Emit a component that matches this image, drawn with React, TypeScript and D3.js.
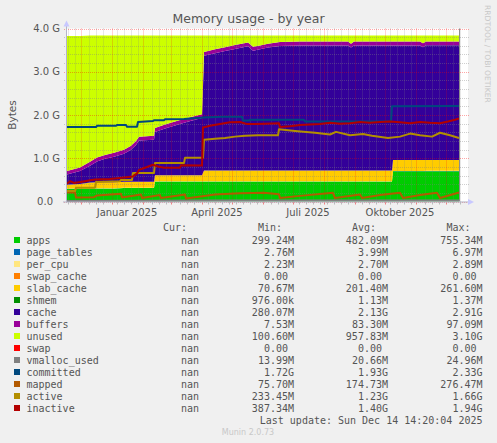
import React from 'react';
import * as d3 from 'd3';

const parseDay = d3.timeParse('%Y-%m-%d');

// stacked areas, values in GiB, one value per date in stackDates
const stackDates = [
  '2024-11-16', '2024-11-29', '2024-12-09', '2024-12-16', '2024-12-24', '2025-01-02',
  '2025-01-12', '2025-01-19', '2025-01-24', '2025-01-27', '2025-02-11', '2025-02-12',
  '2025-02-22', '2025-03-04', '2025-03-14', '2025-03-24', '2025-03-31', '2025-04-02',
  '2025-04-13', '2025-04-23', '2025-05-03', '2025-05-16', '2025-05-21', '2025-05-28',
  '2025-06-05', '2025-06-17', '2025-07-07', '2025-08-24', '2025-08-27', '2025-08-30',
  '2025-10-07', '2025-10-08', '2025-11-04', '2025-11-07', '2025-11-10', '2025-12-13',
];
const apps = [
  0.29, 0.30, 0.30, 0.30, 0.30, 0.30, 0.31, 0.31, 0.31, 0.31, 0.31, 0.46,
  0.46, 0.46, 0.46, 0.46, 0.46, 0.46, 0.46, 0.46, 0.46, 0.46, 0.46, 0.46,
  0.46, 0.46, 0.46, 0.46, 0.46, 0.46, 0.46, 0.70, 0.70, 0.70, 0.70, 0.70,
];
const pageTables = [
  0.003, 0.003, 0.003, 0.003, 0.003, 0.003, 0.003, 0.003, 0.003, 0.004, 0.004, 0.004,
  0.004, 0.004, 0.004, 0.004, 0.004, 0.004, 0.004, 0.004, 0.004, 0.004, 0.004, 0.004,
  0.004, 0.004, 0.004, 0.004, 0.004, 0.004, 0.004, 0.005, 0.005, 0.005, 0.006, 0.006,
];
const perCpu = [
  0.0022, 0.0022, 0.0025, 0.0027, 0.0027, 0.0027, 0.0027, 0.0027, 0.0027, 0.0027, 0.0027, 0.0027,
  0.0027, 0.0027, 0.0027, 0.0027, 0.0027, 0.0028, 0.0028, 0.0028, 0.0028, 0.0028, 0.0028, 0.0028,
  0.0028, 0.0028, 0.0028, 0.0028, 0.0028, 0.0028, 0.0028, 0.0028, 0.0028, 0.0028, 0.0028, 0.0028,
];
const swapCache = [
  0, 0, 0, 0, 0, 0, 0, 0, 0, 0, 0, 0,
  0, 0, 0, 0, 0, 0, 0, 0, 0, 0, 0, 0,
  0, 0, 0, 0, 0, 0, 0, 0, 0, 0, 0, 0,
];
const slabCache = [
  0.09, 0.10, 0.13, 0.14, 0.14, 0.14, 0.14, 0.14, 0.14, 0.14, 0.14, 0.14,
  0.14, 0.14, 0.14, 0.14, 0.14, 0.25, 0.25, 0.25, 0.25, 0.25, 0.25, 0.25,
  0.25, 0.25, 0.25, 0.25, 0.25, 0.25, 0.25, 0.25, 0.25, 0.25, 0.25, 0.25,
];
const shmem = [
  0.0009, 0.0009, 0.001, 0.001, 0.001, 0.001, 0.001, 0.001, 0.001, 0.001, 0.001, 0.0011,
  0.0011, 0.0011, 0.0011, 0.0011, 0.0011, 0.0012, 0.0012, 0.0012, 0.0012, 0.0012, 0.0012, 0.0012,
  0.0012, 0.0012, 0.0012, 0.0012, 0.0012, 0.0012, 0.0012, 0.0013, 0.0013, 0.0013, 0.0013, 0.0013,
];
const cache = [
  0.24, 0.30, 0.39, 0.48, 0.54, 0.59, 0.65, 0.74, 0.85, 0.95, 0.97, 1.00,
  1.08, 1.15, 1.22, 1.28, 1.32, 2.65, 2.71, 2.76, 2.81, 2.87, 2.77, 2.80,
  2.84, 2.88, 2.89, 2.89, 2.84, 2.89, 2.89, 2.65, 2.65, 2.61, 2.65, 2.65,
];
const buffers = [
  0.08, 0.08, 0.09, 0.09, 0.09, 0.09, 0.09, 0.09, 0.09, 0.09, 0.09, 0.09,
  0.09, 0.09, 0.09, 0.09, 0.09, 0.09, 0.09, 0.09, 0.09, 0.09, 0.09, 0.09,
  0.09, 0.09, 0.09, 0.09, 0.09, 0.09, 0.09, 0.09, 0.09, 0.09, 0.09, 0.09,
];
const unused = [
  3.12, 3.04, 2.92, 2.82, 2.76, 2.71, 2.64, 2.55, 2.44, 2.34, 2.32, 2.14,
  2.06, 1.99, 1.92, 1.86, 1.82, 0.38, 0.32, 0.27, 0.22, 0.16, 0.26, 0.23,
  0.19, 0.15, 0.14, 0.14, 0.19, 0.14, 0.14, 0.14, 0.14, 0.18, 0.14, 0.14,
];
const swap = [
  0, 0, 0, 0, 0, 0, 0, 0, 0, 0, 0, 0,
  0, 0, 0, 0, 0, 0, 0, 0, 0, 0, 0, 0,
  0, 0, 0, 0, 0, 0, 0, 0, 0, 0, 0, 0,
];

// line series: [date, GiB]
const vmallocUsed: [string, number][] = [
  ['2024-11-16', 0.014], ['2025-02-12', 0.018], ['2025-04-02', 0.021], ['2025-10-08', 0.023], ['2025-12-13', 0.024],
];
const committed: [string, number][] = [
  ['2024-11-16', 1.72], ['2024-12-15', 1.72], ['2024-12-16', 1.75], ['2025-01-04', 1.75], ['2025-01-05', 1.77],
  ['2025-01-14', 1.77], ['2025-01-15', 1.73], ['2025-01-25', 1.73], ['2025-01-26', 1.84], ['2025-02-10', 1.86],
  ['2025-02-11', 1.88], ['2025-02-21', 1.88], ['2025-02-22', 1.90], ['2025-03-13', 1.91], ['2025-04-02', 1.94],
  ['2025-04-20', 1.96], ['2025-05-10', 1.96], ['2025-05-11', 1.87], ['2025-05-17', 1.87], ['2025-05-18', 1.89],
  ['2025-07-11', 1.89], ['2025-07-12', 1.85], ['2025-10-06', 1.85], ['2025-10-07', 2.20], ['2025-12-13', 2.21],
];
const mapped: [string, number][] = [
  ['2024-11-16', 0.21], ['2024-11-24', 0.21], ['2024-11-25', 0.09], ['2024-12-13', 0.10], ['2024-12-16', 0.14],
  ['2025-01-09', 0.18], ['2025-01-10', 0.09], ['2025-01-29', 0.16], ['2025-01-30', 0.08], ['2025-02-17', 0.15],
  ['2025-02-18', 0.08], ['2025-03-14', 0.16], ['2025-03-15', 0.07], ['2025-04-13', 0.16], ['2025-05-08', 0.19],
  ['2025-06-01', 0.20], ['2025-06-16', 0.17], ['2025-06-17', 0.08], ['2025-07-07', 0.13], ['2025-08-09', 0.20],
  ['2025-08-11', 0.08], ['2025-09-05', 0.16], ['2025-09-07', 0.08], ['2025-09-25', 0.15], ['2025-10-15', 0.20],
  ['2025-10-18', 0.08], ['2025-11-04', 0.15], ['2025-11-21', 0.20], ['2025-11-24', 0.08], ['2025-12-13', 0.21],
];
const active: [string, number][] = [
  ['2024-11-16', 0.24], ['2024-11-24', 0.24], ['2024-11-25', 0.32], ['2024-12-14', 0.32], ['2024-12-15', 0.45],
  ['2025-01-08', 0.47], ['2025-01-09', 0.50], ['2025-01-20', 0.50], ['2025-01-21', 0.66], ['2025-02-11', 0.66],
  ['2025-02-12', 0.89], ['2025-03-13', 0.89], ['2025-03-14', 1.01], ['2025-04-01', 1.01], ['2025-04-02', 1.43],
  ['2025-04-13', 1.45], ['2025-04-23', 1.47], ['2025-05-03', 1.50], ['2025-05-13', 1.52], ['2025-05-26', 1.53],
  ['2025-06-15', 1.53], ['2025-06-16', 1.67], ['2025-07-02', 1.63], ['2025-07-22', 1.59], ['2025-08-06', 1.55],
  ['2025-08-12', 1.61], ['2025-08-26', 1.53], ['2025-09-08', 1.56], ['2025-09-17', 1.52], ['2025-10-03', 1.47],
  ['2025-10-15', 1.50], ['2025-10-25', 1.57], ['2025-11-04', 1.53], ['2025-11-16', 1.50], ['2025-11-24', 1.59],
  ['2025-12-04', 1.53], ['2025-12-13', 1.47],
];
const inactive: [string, number][] = [
  ['2024-11-16', 0.41], ['2024-11-19', 0.47], ['2024-11-23', 0.43], ['2024-11-29', 0.45], ['2024-12-04', 0.47],
  ['2024-12-09', 0.49], ['2024-12-14', 0.51], ['2024-12-29', 0.52], ['2025-01-10', 0.55], ['2025-01-21', 0.58],
  ['2025-01-25', 0.65], ['2025-01-27', 0.73], ['2025-02-02', 0.78], ['2025-02-10', 0.85], ['2025-02-15', 0.81],
  ['2025-02-21', 0.78], ['2025-03-09', 0.78], ['2025-03-10', 0.84], ['2025-03-31', 0.83], ['2025-04-01', 1.71],
  ['2025-04-08', 1.75], ['2025-04-18', 1.79], ['2025-04-28', 1.83], ['2025-05-08', 1.84], ['2025-05-15', 1.79],
  ['2025-05-23', 1.79], ['2025-06-02', 1.80], ['2025-06-16', 1.81], ['2025-06-17', 1.72], ['2025-06-27', 1.74],
  ['2025-07-07', 1.77], ['2025-07-17', 1.78], ['2025-07-27', 1.79], ['2025-08-06', 1.82], ['2025-08-16', 1.80],
  ['2025-08-26', 1.81], ['2025-09-05', 1.84], ['2025-09-15', 1.82], ['2025-09-25', 1.84], ['2025-10-05', 1.85],
  ['2025-10-15', 1.83], ['2025-10-25', 1.81], ['2025-11-04', 1.84], ['2025-11-14', 1.82], ['2025-11-24', 1.81],
  ['2025-12-02', 1.85], ['2025-12-09', 1.89], ['2025-12-13', 1.92],
];

const xLabelDates = ['2025-01-15', '2025-04-15', '2025-07-15', '2025-10-15'];
const xLabelTexts = ['Januar 2025', 'April 2025', 'Juli 2025', 'Oktober 2025'];
const yTicks = [0, 1, 2, 3, 4];

const legendNames = [
  'apps', 'page_tables', 'per_cpu', 'swap_cache', 'slab_cache', 'shmem', 'cache',
  'buffers', 'unused', 'swap', 'vmalloc_used', 'committed', 'mapped', 'active', 'inactive',
];
const legendMin = [
  '299.24M', '2.76M', '2.23M', '0.00', '70.67M', '976.00k', '280.07M',
  '7.53M', '100.60M', '0.00', '13.99M', '1.72G', '75.70M', '233.45M', '387.34M',
];
const legendAvg = [
  '482.09M', '3.99M', '2.70M', '0.00', '201.40M', '1.13M', '2.13G',
  '83.30M', '957.83M', '0.00', '20.66M', '1.93G', '174.73M', '1.23G', '1.40G',
];
const legendMax = [
  '755.34M', '6.97M', '2.89M', '0.00', '261.60M', '1.37M', '2.91G',
  '97.09M', '3.10G', '0.00', '24.96M', '2.33G', '276.47M', '1.66G', '1.94G',
];

const colors: Record<string, string> = {
  apps: '#00CC00',
  page_tables: '#0066B3',
  per_cpu: '#FFE680',
  swap_cache: '#FF8000',
  slab_cache: '#FFCC00',
  shmem: '#008F00',
  cache: '#330099',
  buffers: '#990099',
  unused: '#CCFF00',
  swap: '#FF0000',
  vmalloc_used: '#808080',
  committed: '#00487D',
  mapped: '#B35A00',
  active: '#B38F00',
  inactive: '#B30000',
};

const stackKeys = ['apps', 'page_tables', 'per_cpu', 'swap_cache', 'slab_cache', 'shmem', 'cache', 'buffers', 'unused', 'swap'];
const stackValues: Record<string, number[]> = {
  apps, page_tables: pageTables, per_cpu: perCpu, swap_cache: swapCache, slab_cache: slabCache,
  shmem, cache, buffers, unused, swap,
};
const lineSeries: [string, [string, number][]][] = [
  ['vmalloc_used', vmallocUsed],
  ['committed', committed],
  ['mapped', mapped],
  ['active', active],
  ['inactive', inactive],
];

const W = 497;
const H = 443;
const plotLeft = 67;
const plotRight = 459;
const canvasRight = 468;
const plotTop = 28.5;
const plotBottom = 201.5;
const sans = '"DejaVu Sans", sans-serif';
const mono = '"DejaVu Sans Mono", monospace';
const textColor = '#555';

export default function App() {
  const x = d3
    .scaleTime()
    .domain([parseDay(stackDates[0])!, parseDay(stackDates[stackDates.length - 1])!])
    .range([plotLeft, plotRight]);
  const y = d3.scaleLinear().domain([0, 4]).range([plotBottom, plotTop]);

  const rows = stackDates.map((d, i) => {
    const row: any = { date: parseDay(d) };
    stackKeys.forEach((k) => (row[k] = stackValues[k][i]));
    return row;
  });
  const series = d3.stack<any>().keys(stackKeys)(rows);
  const area = d3
    .area<any>()
    .x((d) => x(d.data.date))
    .y0((d) => y(d[0]))
    .y1((d) => y(d[1]));
  const line = d3
    .line<[string, number]>()
    .x((d) => x(parseDay(d[0])!))
    .y((d) => y(d[1]));

  // grid: monthly major lines, weekly (monday) minor lines
  const gridEnd = x.invert(canvasRight);
  const majorX = d3.timeMonth.range(x.domain()[0], gridEnd).filter((d) => x(d) > plotLeft);
  const minorX = d3
    .timeMonday.range(x.domain()[0], gridEnd)
    .filter((d) => x(d) > plotLeft && majorX.every((m) => Math.abs(x(m) - x(d)) > 2));
  const minorY = d3.range(1, 20).map((i) => i * 0.2).filter((v) => Math.abs(v - Math.round(v)) > 0.01);

  const px = (v: number) => Math.round(v) - 0.5;

  const colRight = [199, 294, 388, 482.5];
  const cw = 6.02;
  const valueX = (col: number, s: string) => (/[0-9]$/.test(s) ? colRight[col] - cw : colRight[col]);

  return (
    <svg width={W} height={H} style={{ position: 'absolute', left: 0, top: 0, display: 'block' }}>
      <rect x={0} y={0} width={W} height={H} fill="#f0f0f0" />
      <rect x={plotLeft} y={plotTop} width={canvasRight - plotLeft} height={plotBottom - plotTop} fill="#ffffff" />

      {series.map((s) => (
        <path key={s.key} d={area(s) || ''} fill={colors[s.key]} />
      ))}

      {/* grid */}
      <g strokeDasharray="1,1" strokeWidth={1}>
        {minorY.map((v) => (
          <line key={'my' + v} x1={plotLeft - 3} x2={canvasRight + 2} y1={px(y(v)) + 1} y2={px(y(v)) + 1} stroke="#808080" strokeOpacity={0.38} />
        ))}
        {minorX.map((d) => (
          <line key={'mx' + +d} x1={px(x(d))} x2={px(x(d))} y1={plotTop} y2={plotBottom} stroke="#808080" strokeOpacity={0.38} />
        ))}
        {yTicks.map((v) => (
          <line key={'My' + v} x1={plotLeft - 3} x2={canvasRight + 2} y1={px(y(v)) + 1} y2={px(y(v)) + 1} stroke="#ff0000" strokeOpacity={0.35} />
        ))}
        {majorX.map((d) => (
          <line key={'Mx' + +d} x1={px(x(d))} x2={px(x(d))} y1={plotTop} y2={plotBottom} stroke="#ff0000" strokeOpacity={0.35} />
        ))}
      </g>
      {minorX.map((d) => (
        <line key={'tx' + +d} x1={px(x(d))} x2={px(x(d))} y1={plotBottom} y2={plotBottom + 3} stroke="#bbbbbb" />
      ))}
      {majorX.map((d) => (
        <line key={'Tx' + +d} x1={px(x(d))} x2={px(x(d))} y1={plotBottom} y2={plotBottom + 3} stroke="#f08080" />
      ))}

      {lineSeries.map(([name, data]) => (
        <path key={name} d={line(data) || ''} fill="none" stroke={colors[name]} strokeWidth={2} strokeLinejoin="round" />
      ))}

      {/* axes */}
      <line x1={plotRight + 0.5} x2={plotRight + 0.5} y1={plotTop} y2={plotBottom} stroke="#8c8c8c" />
      <line x1={plotLeft - 0.5} x2={plotLeft - 0.5} y1={plotBottom + 1} y2={plotTop - 4} stroke="#b4b4c8" />
      <line x1={plotLeft - 4} x2={canvasRight + 1} y1={plotBottom + 0.5} y2={plotBottom + 0.5} stroke="#b4b4c8" />
      <path d={`M${plotLeft - 3.5},${plotTop - 2} L${plotLeft + 2.5},${plotTop - 2} L${plotLeft - 0.5},${plotTop - 8} Z`} fill="#c8c8ff" />
      <path d={`M${canvasRight},${plotBottom - 2.5} L${canvasRight},${plotBottom + 3.5} L${canvasRight + 6},${plotBottom + 0.5} Z`} fill="#c8c8ff" />

      {/* y labels */}
      {yTicks.map((v) => (
        <text
          key={'yl' + v}
          x={v === 0 ? 53 : 60}
          y={y(v) + 3.6}
          textAnchor="end"
          fontFamily={sans}
          fontSize={10}
          fill={textColor}
        >
          {v === 0 ? '0.0' : `${v.toFixed(1)} G`}
        </text>
      ))}
      {/* x labels */}
      {xLabelDates.map((d, i) => (
        <text key={d} x={x(parseDay(d)!)} y={216} textAnchor="middle" fontFamily={sans} fontSize={10} fill={textColor}>
          {xLabelTexts[i]}
        </text>
      ))}

      <text x={248.5} y={23} textAnchor="middle" fontFamily={sans} fontSize={12.5} fill={textColor}>
        Memory usage - by year
      </text>
      <text transform="translate(15.5,115) rotate(-90)" textAnchor="middle" fontFamily={sans} fontSize={10.5} fill={textColor}>
        Bytes
      </text>
      <text transform="translate(484.5,5) rotate(90)" fontFamily={sans} fontSize={7.6} fill="#c8c8c8">
        RRDTOOL / TOBI OETIKER
      </text>

      {/* legend */}
      <g fontFamily={mono} fontSize={10} fill={textColor}>
        <text x={187} y={230.5} textAnchor="end">Cur:</text>
        <text x={282} y={230.5} textAnchor="end">Min:</text>
        <text x={376} y={230.5} textAnchor="end">Avg:</text>
        <text x={470.5} y={230.5} textAnchor="end">Max:</text>
        {legendNames.map((name, i) => {
          const cy = 240 + i * 12;
          return (
            <g key={name}>
              <rect x={14} y={cy - 3} width={6} height={6} fill={colors[name]} />
              <text x={26.5} y={cy + 3.5}>{name}</text>
              <text x={valueX(0, 'nan')} y={cy + 3.5} textAnchor="end">nan</text>
              <text x={valueX(1, legendMin[i])} y={cy + 3.5} textAnchor="end">{legendMin[i]}</text>
              <text x={valueX(2, legendAvg[i])} y={cy + 3.5} textAnchor="end">{legendAvg[i]}</text>
              <text x={valueX(3, legendMax[i])} y={cy + 3.5} textAnchor="end">{legendMax[i]}</text>
            </g>
          );
        })}
        <text x={482.5} y={423.5} textAnchor="end">Last update: Sun Dec 14 14:20:04 2025</text>
      </g>
      <text x={248} y={435} textAnchor="middle" fontFamily={sans} fontSize={8} fill="#c8c8c8">
        Munin 2.0.73
      </text>
    </svg>
  );
}
